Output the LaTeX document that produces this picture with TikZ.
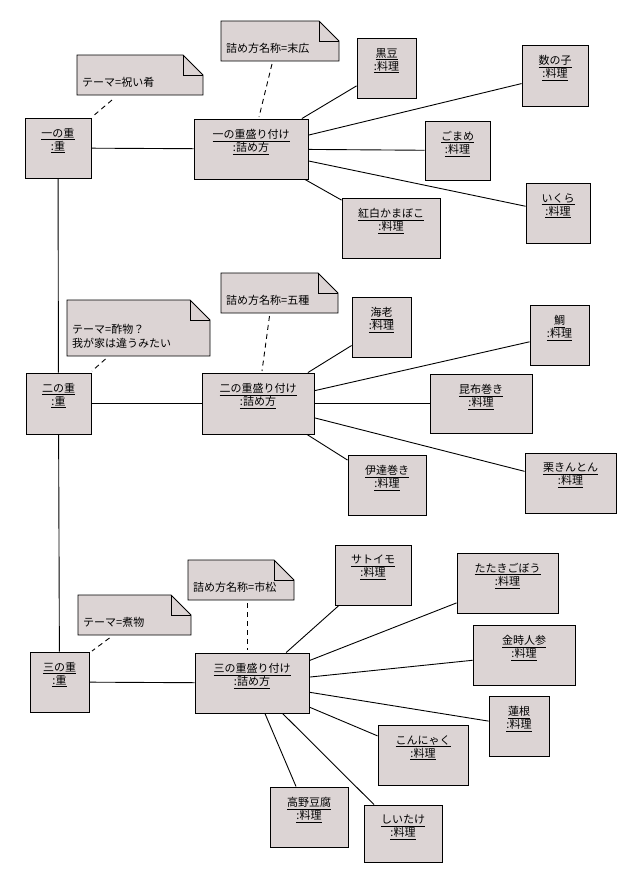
\documentclass[tikz,border=0pt]{standalone}
\usepackage{fontspec}
\setmainfont{Noto Sans CJK JP}
\tikzset{
  objbox/.style={draw=black,fill=boxfill,line width=0.9pt,inner sep=0pt},
  objtext/.style={anchor=north,align=center,font=\fontsize{11}{13}\selectfont,inner sep=0pt},
  notetext/.style={anchor=south west,align=left,font=\fontsize{11}{14}\selectfont,inner sep=0pt},
  link/.style={line width=0.9pt},
  notelink/.style={line width=0.9pt,dash pattern=on 5pt off 4pt}
}
\definecolor{boxfill}{HTML}{DCD4D4}
\newcommand\obj[7]{%
  \node[objbox,minimum width={#4-#2},minimum height={#5-#3}] (#1) at ({(#2+#4)/2},{(#3+#5)/2}) {};
  \node[objtext] (#1t) at ({(#2+#4)/2},{#3+10}) {\underline{#6}\\\underline{#7}};}
\newcommand\note[6]{%
  \path[fill=boxfill,draw=black,line width=0.9pt] (#2,#3) -- ({#4-20},#3) -- (#4,{#3+20}) -- (#4,#5) -- (#2,#5) -- cycle;
  \draw[line width=0.9pt] ({#4-20},#3) -- ({#4-20},{#3+20}) -- (#4,{#3+20});
  \coordinate (#1) at ({(#2+#4)/2},#5);
  \node[notetext] (#1t) at ({#2+5},{#5-7}) {#6};}
\begin{document}
\begin{tikzpicture}[x=1pt,y=-1pt]
\fill[white] (0,0) rectangle (640,887);
\useasboundingbox (0,0) rectangle (640,887);
% left column
\obj{a1}{25}{118}{91}{178}{一の重}{:重}
\obj{a2}{26}{373}{91}{434}{二の重}{:重}
\obj{a3}{30}{652}{89}{712}{三の重}{:重}
\obj{b1}{194}{119}{308}{179}{一の重盛り付け}{:詰め方}
\obj{b2}{202}{373}{314}{434}{二の重盛り付け}{:詰め方}
\obj{b3}{195}{653}{309}{713}{三の重盛り付け}{:詰め方}
\draw[link] (a1) -- (a2); \draw[link] (a2) -- (a3);
\draw[link] (a1) -- (b1); \draw[link] (a2) -- (b2); \draw[link] (a3) -- (b3);
% notes
\note{n1}{77}{55}{203}{95}{テーマ=祝い肴}
\note{n2}{67}{300}{210}{356}{テーマ=酢物？\\我が家は違うみたい}
\note{n3}{78}{595}{191}{635}{テーマ=煮物}
\note{m1}{221}{21}{339}{61}{詰め方名称=末広}
\note{m2}{221}{273}{338}{313}{詰め方名称=五種}
\note{m3}{188}{560}{294}{600}{詰め方名称=市松}
\coordinate (n1e) at (92,117); \coordinate (n2e) at (92,371); \coordinate (n3e) at (92,651);
\coordinate (m1e) at (259,117); \coordinate (m2e) at (262,371); \coordinate (m3e) at (247,650);
\draw[notelink] (n1) ++(-28,5) -- (n1e);
\draw[notelink] (n2) ++(-33,3) -- (n2e);
\draw[notelink] (n3) ++(-25,3) -- (n3e);
\draw[notelink] (m1) ++(-8,3) -- (m1e);
\draw[notelink] (m2) ++(-10,3) -- (m2e);
\draw[notelink] (m3) ++(6,3) -- (m3e);
% foods
\obj{f1}{357}{38}{416}{98}{黒豆}{:料理}
\obj{f2}{522}{45}{588}{106}{数の子}{:料理}
\obj{f3}{425}{121}{490}{180}{ごまめ}{:料理}
\obj{f4}{526}{183}{590}{243}{いくら}{:料理}
\obj{f5}{342}{198}{440}{258}{紅白かまぼこ}{:料理}
\foreach \f in {f1,f2,f3,f4,f5} \draw[link] (b1) -- (\f);
\obj{g1}{352}{297}{411}{357}{海老}{:料理}
\obj{g2}{530}{305}{589}{365}{鯛}{:料理}
\obj{g3}{430}{374}{532}{433}{昆布巻き}{:料理}
\obj{g4}{525}{453}{616}{513}{栗きんとん}{:料理}
\obj{g5}{348}{455}{426}{515}{伊達巻き}{:料理}
\foreach \f in {g1,g2,g3,g4,g5} \draw[link] (b2) -- (\f);
\obj{h1}{335}{545}{411}{605}{サトイモ}{:料理}
\obj{h2}{457}{553}{558}{613}{たたきごぼう}{:料理}
\obj{h3}{473}{625}{575}{685}{金時人参}{:料理}
\obj{h4}{489}{696}{549}{756}{蓮根}{:料理}
\obj{h5}{378}{725}{468}{785}{こんにゃく}{:料理}
\obj{h6}{270}{787}{348}{847}{高野豆腐}{:料理}
\obj{h7}{364}{805}{442}{862}{しいたけ}{:料理}
\foreach \f in {h1,h2,h3,h4,h5,h6,h7} \draw[link] (b3) -- (\f);
\end{tikzpicture}
\end{document}
